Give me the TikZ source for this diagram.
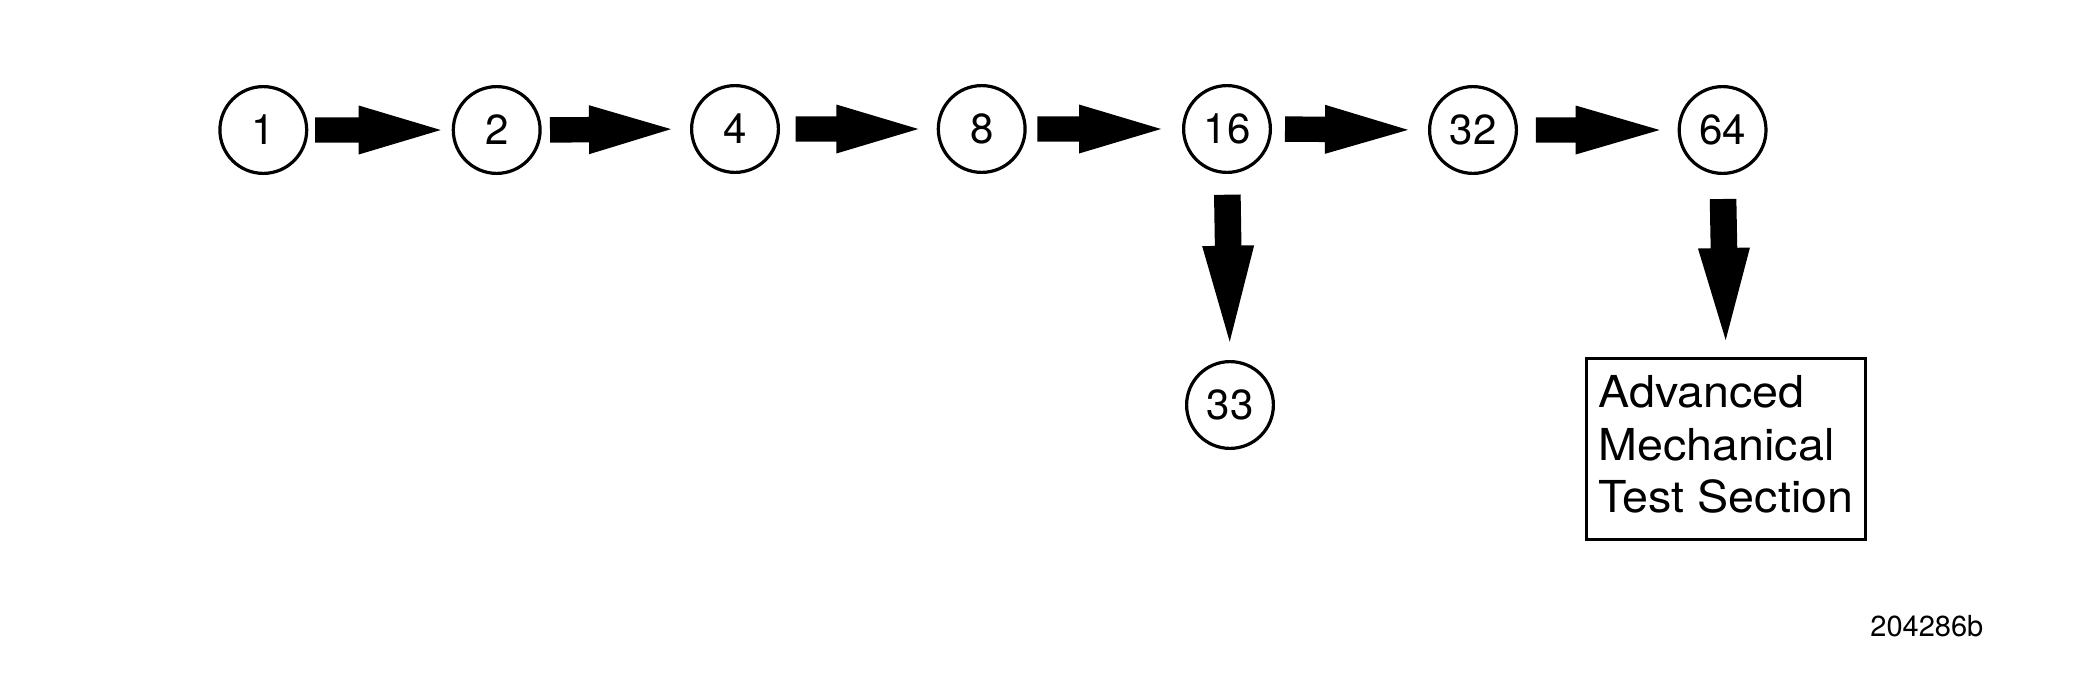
\documentclass[tikz,border=0pt]{standalone}
\usepackage{fontspec}
\setmainfont{TeX Gyre Heros}
\newfontfamily\boxfont[FakeStretch=1.06]{TeX Gyre Heros}
\usetikzlibrary{calc}
% fat block arrow between two points: #1 from, #2 to, #3 start gap, #4 end gap,
% #5 half shaft width, #6 half head width, #7 head length
\newcommand\fatarr[7]{%
  \coordinate (fa-s) at ($(#1)!#3!(#2)$);
  \coordinate (fa-t) at ($(#2)!#4!(#1)$);
  \coordinate (fa-b) at ($(fa-t)!#7!(fa-s)$);
  \fill[black] ($(fa-s)!#5!90:(fa-t)$) -- ($(fa-b)!#5!90:(fa-t)$) --
    ($(fa-b)!#6!90:(fa-t)$) -- (fa-t) -- ($(fa-b)!#6!-90:(fa-t)$) --
    ($(fa-b)!#5!-90:(fa-t)$) -- ($(fa-s)!#5!-90:(fa-t)$) -- cycle;}
\begin{document}
\begin{tikzpicture}[x=0.5pt,y=-0.5pt,
  circ/.style={draw, circle, line width=1.6pt, minimum size=43.4pt, inner sep=0pt,
    font=\fontsize{21}{25}\selectfont},
  boxnode/.style={draw, rectangle, line width=1.5pt, minimum width=139.5pt,
    minimum height=90.5pt, inner sep=0pt, align=left,
    font=\boxfont\fontsize{22}{26.25}\selectfont},
  lbl/.style={font=\fontsize{14.5}{17}\selectfont, inner sep=0pt}]
\useasboundingbox (0,0) rectangle (2100,675);
\fill[white] (0,0) rectangle (2100,675);
\node[circ] (c1)  at (263.3,130) {1};
\node[circ] (c2)  at (496.7,130) {2};
\node[circ] (c4)  at (735,129) {4};
\node[circ] (c8)  at (981.7,129) {8};
\node[circ] (c16) at (1227,129) {16};
\node[circ] (c32) at (1473,130) {32};
\node[circ] (c64) at (1722.6,130) {64};
\node[circ] (c33) at (1230,405) {33};
\node[boxnode] (amts) at (1726,449) {Advanced\\Mechanical\\Test Section\rule[-5pt]{0pt}{0pt}};
\node[lbl, anchor=base west] (id) at (1870,636.7) {204286b};
% horizontal arrows
\fatarr{c1.east}{c2.west}{3.35pt}{5.5pt}{6.35pt}{12.25pt}{41pt}
\fatarr{c2.east}{c4.west}{4.15pt}{9.5pt}{6.35pt}{12.25pt}{41pt}
\fatarr{c4.east}{c8.west}{7.85pt}{9.2pt}{6.35pt}{12.25pt}{41pt}
\fatarr{c8.east}{c16.west}{5.3pt}{10.5pt}{6.35pt}{12.25pt}{41pt}
\fatarr{c16.east}{c32.west}{6.5pt}{10pt}{6.35pt}{12.25pt}{41.5pt}
\fatarr{c32.east}{c64.west}{8.9pt}{9pt}{6.35pt}{12.25pt}{42pt}
% vertical arrows
\fatarr{c16.south}{c33.north}{10.35pt}{9.15pt}{6.65pt}{13pt}{48pt}
\fatarr{c64.south}{amts.north}{12pt}{8.5pt}{6.65pt}{13pt}{46pt}
\end{tikzpicture}
\end{document}
